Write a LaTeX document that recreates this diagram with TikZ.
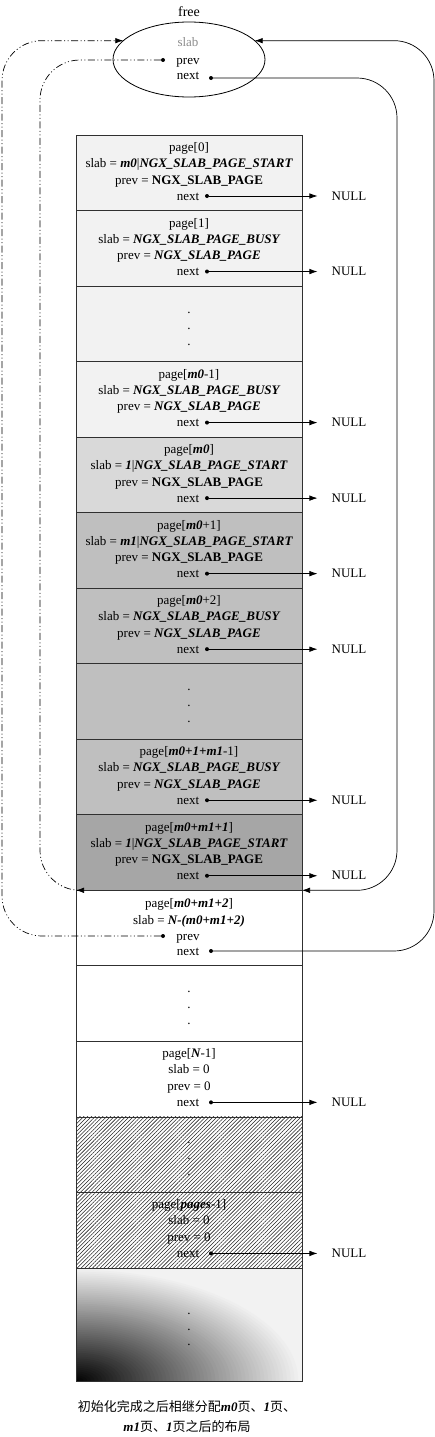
\documentclass[tikz,border=0pt]{standalone}
\usepackage{fontspec}
\setmainfont{Liberation Serif}
\newfontfamily\cjk{Noto Sans CJK SC}
\usetikzlibrary{shapes.geometric,arrows.meta,patterns.meta}
\newcommand\bi[1]{{\rmfamily\bfseries\itshape #1}}
\definecolor{pgA}{HTML}{F2F2F2}
\definecolor{pgB}{HTML}{D9D9D9}
\definecolor{pgC}{HTML}{BFBFBF}
\definecolor{pgD}{HTML}{A6A6A6}
\definecolor{edge}{HTML}{303030}
\tikzset{
 rowbox/.style={draw=edge, line width=0.8pt, minimum width=226pt, minimum height=75.53pt, inner sep=0pt, outer sep=0pt},
 hatchbox/.style={rowbox, pattern={Lines[angle=45,distance=2.7pt,line width=0.55pt]}, pattern color=black!85},
 txt/.style={font=\fontsize{13}{15}\selectfont, inner sep=0pt, anchor=base},
 dotn/.style={circle, fill=black, inner sep=0pt, minimum size=4pt},
 tipend/.style={-{Latex[length=8pt,width=5.5pt]}},
 nullarr/.style={line width=0.7pt, tipend, shorten >=14pt},
 link/.style={line width=0.7pt, rounded corners=40pt},
 dashlink/.style={link, dash pattern=on 7pt off 2.5pt on 1pt off 2.5pt on 1pt off 2.5pt}
}
% #1 name, #2 top, #3 line1, #4 line2, #5 line3, #6 dot x
\newcommand\pagerow[6]{%
 \node[txt] (#1a) at (189,#2+16.5) {#3};
 \node[txt] (#1b) at (189,#2+32.5) {#4};
 \node[txt] (#1c) at (189,#2+49) {#5};
 \node[txt] (#1d) at (188,#2+65) {next};
 \node[dotn] (#1p) at (#6,#2+61) {};
 \node[txt] (#1n) at (349,#2+65) {NULL};
 \draw[nullarr] (#1p) -- (#1p -| #1n.west);
}
\newcommand\dotsrow[2]{%
 \node[txt] (#1x) at (189,#2+27) {.};
 \node[txt] (#1y) at (189,#2+43) {.};
 \node[txt] (#1z) at (189,#2+59) {.};
}
\begin{document}
\begin{tikzpicture}[x=1pt,y=-1pt]
\useasboundingbox (0,0) rectangle (435,1437);
% rows
\node[rowbox, fill=pgA] (r0) at (189,172.765) {};
\node[rowbox, fill=pgA] (r1) at (189,248.295) {};
\node[rowbox, fill=pgA] (r2) at (189,323.825) {};
\node[rowbox, fill=pgA] (r3) at (189,399.355) {};
\node[rowbox, fill=pgB] (r4) at (189,474.885) {};
\node[rowbox, fill=pgC] (r5) at (189,550.415) {};
\node[rowbox, fill=pgC] (r6) at (189,625.945) {};
\node[rowbox, fill=pgC] (r7) at (189,701.475) {};
\node[rowbox, fill=pgC] (r8) at (189,777.005) {};
\node[rowbox, fill=pgD] (r9) at (189,852.535) {};
\node[rowbox, fill=white] (r10) at (189,928.065) {};
\node[rowbox, fill=white] (r11) at (189,1003.595) {};
\node[rowbox, fill=white] (r12) at (189,1079.125) {};
\node[hatchbox] (r13) at (189,1154.655) {};
\node[hatchbox] (r14) at (189,1230.185) {};
% gradient page area
\fill[pgA] (76,1267.95) rectangle (302,1381);
\begin{scope}
\clip (76,1267.95) rectangle (302,1381);
\foreach \i in {0,...,59}{
  \pgfmathsetmacro\rr{1-\i/60}
  \pgfmathsetmacro\dk{5+95*\i/60}
  \fill[black!\dk] (76,1381) ellipse [x radius=226*\rr, y radius=113*\rr];
}
\end{scope}
\node[rowbox, minimum height=113.05pt] (r15) at (189,1324.475) {};
% texts
\pagerow{t0}{135}{page[0]}{slab = \bi{m0}|\bi{NGX\_SLAB\_PAGE\_START}}{prev = \textbf{NGX\_SLAB\_PAGE}}{207}
\pagerow{t1}{210.53}{page[1]}{slab = \bi{NGX\_SLAB\_PAGE\_BUSY}}{prev = \bi{NGX\_SLAB\_PAGE}}{207}
\dotsrow{t2}{286.06}
\pagerow{t3}{361.59}{page[\bi{m0}-1]}{slab = \bi{NGX\_SLAB\_PAGE\_BUSY}}{prev = \bi{NGX\_SLAB\_PAGE}}{207}
\pagerow{t4}{437.12}{page[\bi{m0}]}{slab = \bi{1}|\bi{NGX\_SLAB\_PAGE\_START}}{prev = \textbf{NGX\_SLAB\_PAGE}}{207}
\pagerow{t5}{512.65}{page[\bi{m0}+1]}{slab = \bi{m1}|\bi{NGX\_SLAB\_PAGE\_START}}{prev = \textbf{NGX\_SLAB\_PAGE}}{207}
\pagerow{t6}{588.18}{page[\bi{m0}+2]}{slab = \bi{NGX\_SLAB\_PAGE\_BUSY}}{prev = \bi{NGX\_SLAB\_PAGE}}{207}
\dotsrow{t7}{663.71}
\pagerow{t8}{739.24}{page[\bi{m0+1+m1}-1]}{slab = \bi{NGX\_SLAB\_PAGE\_BUSY}}{prev = \bi{NGX\_SLAB\_PAGE}}{207}
\pagerow{t9}{814.77}{page[\bi{m0+m1+1}]}{slab = \bi{1}|\bi{NGX\_SLAB\_PAGE\_START}}{prev = \textbf{NGX\_SLAB\_PAGE}}{207}
% row 10
\node[txt] (t10a) at (189,907) {page[\bi{m0+m1+2}]};
\node[txt] (t10b) at (189,924) {slab = \bi{N-(m0+m1+2)}};
\node[txt] (t10c) at (188,940) {prev};
\node[txt] (t10d) at (188,955) {next};
\node[dotn] (t10p) at (163,936) {};
\node[dotn] (t10q) at (211,951) {};
\dotsrow{t11}{965.83}
\pagerow{t12}{1041.36}{page[\bi{N}-1]}{slab = 0}{prev = 0}{211}
\dotsrow{t13}{1116.89}
\pagerow{t14}{1192.42}{page[\bi{pages}-1]}{slab = 0}{prev = 0}{211}
\node[txt] (t15x) at (189,1314) {.};
\node[txt] (t15y) at (189,1330) {.};
\node[txt] (t15z) at (189,1345) {.};
% free ellipse
\node[txt, font=\fontsize{14}{16}\selectfont] (freelbl) at (189,17) {free};
\node[draw, ellipse, line width=0.8pt, minimum width=152pt, minimum height=75pt, inner sep=0pt, outer sep=0pt] (free) at (189,59.5) {};
\node[txt, text=black!45] (fslab) at (188,47) {slab};
\node[txt] (fprevt) at (188,64) {prev};
\node[txt] (fnextt) at (188,80) {next};
\node[dotn] (fprev) at (163,60) {};
\node[dotn] (fnext) at (211,78) {};
% connectors
\coordinate (inL) at (76,890.3);
\coordinate (inR) at (302,890.3);
\draw[dashlink, tipend] (fprev) -| (40,0 |- inL) -- (inL);
\draw[dashlink, tipend] (t10p) -| (2,0 |- free.164) -- (free.164);
\draw[link, tipend] (fnext) -| (397,0 |- inR) -- (inR);
\draw[link, tipend] (t10q) -| (434,0 |- free.16) -- (free.16);
% caption
\node[align=center, inner sep=0pt, font=\fontsize{13}{20}\selectfont\cjk] (cap) at (187,1417) {初始化完成之后相继分配\bi{m0}页、\bi{1}页、\\\bi{m1}页、\bi{1}页之后的布局};
\end{tikzpicture}
\end{document}
